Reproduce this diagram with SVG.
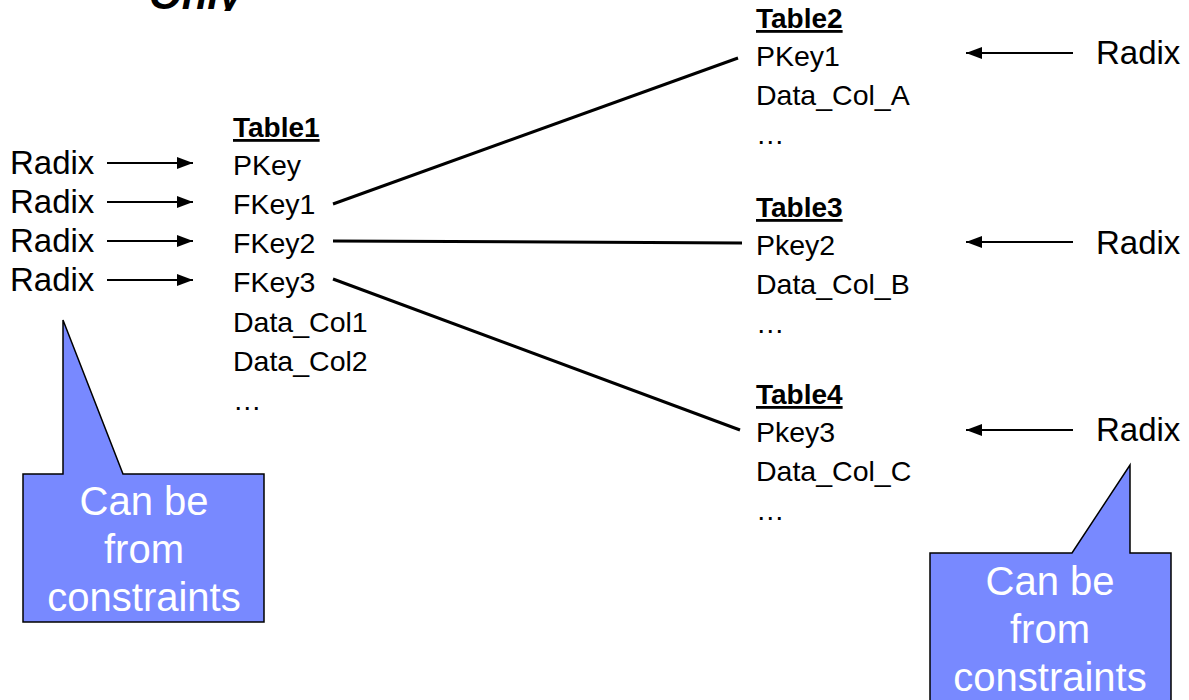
<svg xmlns="http://www.w3.org/2000/svg" width="1189" height="700" viewBox="0 0 1189 700">
  <defs>
    <marker id="arrow" viewBox="0 0 16 12" refX="16" refY="6" markerWidth="16" markerHeight="12" markerUnits="userSpaceOnUse" orient="auto">
      <path d="M0,0 L16,6 L0,12 z" fill="#000"/>
    </marker>
    <clipPath id="topClip">
      <rect x="0" y="0" width="400" height="11"/>
    </clipPath>
    <style>
      text { font-family: "Liberation Sans", Arial, sans-serif; fill: #000; }
      .col { font-size: 28.5px; }
      .title { font-size: 28px; font-weight: bold; text-decoration: underline; }
      .radix { font-size: 33px; }
      .note { font-size: 40px; fill: #fff; text-anchor: middle; }
      .link { stroke: #000; stroke-width: 3; fill: none; }
      .feed { stroke: #000; stroke-width: 2; fill: none; marker-end: url(#arrow); }
      .callout { fill: #7889ff; stroke: #000; stroke-width: 1.5; }
    </style>
  </defs>

  <rect width="1189" height="700" fill="#fff"/>

  <!-- heading, running off the top edge -->
  <text x="149" y="9" clip-path="url(#topClip)" style="font-size:42px;font-weight:900;font-style:italic">Only</text>

  <!-- Table1 -->
  <g id="table1">
    <text class="title" x="233" y="137">Table1</text>
    <text class="col" x="233" y="175">PKey</text>
    <text class="col" x="233" y="214">FKey1</text>
    <text class="col" x="233" y="253">FKey2</text>
    <text class="col" x="233" y="292">FKey3</text>
    <text class="col" x="233" y="332">Data_Col1</text>
    <text class="col" x="233" y="371">Data_Col2</text>
    <text class="col" x="233" y="410">…</text>
  </g>

  <!-- Table2 -->
  <g id="table2">
    <text class="title" x="756" y="28">Table2</text>
    <text class="col" x="756" y="66">PKey1</text>
    <text class="col" x="756" y="105">Data_Col_A</text>
    <text class="col" x="756" y="144">…</text>
  </g>

  <!-- Table3 -->
  <g id="table3">
    <text class="title" x="756" y="217">Table3</text>
    <text class="col" x="756" y="255">Pkey2</text>
    <text class="col" x="756" y="294">Data_Col_B</text>
    <text class="col" x="756" y="333">…</text>
  </g>

  <!-- Table4 -->
  <g id="table4">
    <text class="title" x="756" y="404">Table4</text>
    <text class="col" x="756" y="442">Pkey3</text>
    <text class="col" x="756" y="481">Data_Col_C</text>
    <text class="col" x="756" y="520">…</text>
  </g>

  <!-- Radix sources -->
  <g id="radix-left">
    <text class="radix" x="10" y="174">Radix</text>
    <text class="radix" x="10" y="213">Radix</text>
    <text class="radix" x="10" y="252">Radix</text>
    <text class="radix" x="10" y="291">Radix</text>
  </g>
  <g id="radix-right">
    <text class="radix" x="1096" y="64">Radix</text>
    <text class="radix" x="1096" y="254">Radix</text>
    <text class="radix" x="1096" y="441">Radix</text>
  </g>

  <!-- Callouts -->
  <g id="callout-left">
    <path class="callout" d="M23,474 L63,474 L63,320 L123,474 L264,474 L264,622 L23,622 Z"/>
    <text class="note" x="144" y="515">Can be</text>
    <text class="note" x="144" y="563">from</text>
    <text class="note" x="144" y="611">constraints</text>
  </g>
  <g id="callout-right">
    <path class="callout" d="M930,553 L1072,553 L1130,465 L1130,553 L1171,553 L1171,705 L930,705 Z"/>
    <text class="note" x="1050" y="595">Can be</text>
    <text class="note" x="1050" y="643">from</text>
    <text class="note" x="1050" y="691">constraints</text>
  </g>

  <!-- Connectors -->
  <g id="connectors">
    <line class="link" x1="333" y1="204" x2="738" y2="58"/>
    <line class="link" x1="333" y1="241" x2="742" y2="243"/>
    <line class="link" x1="333" y1="279" x2="740" y2="430"/>

    <line class="feed" x1="107" y1="163" x2="193" y2="163"/>
    <line class="feed" x1="107" y1="202" x2="193" y2="202"/>
    <line class="feed" x1="107" y1="241" x2="193" y2="241"/>
    <line class="feed" x1="107" y1="280" x2="193" y2="280"/>

    <line class="feed" x1="1073" y1="53" x2="966" y2="53"/>
    <line class="feed" x1="1073" y1="242" x2="966" y2="242"/>
    <line class="feed" x1="1073" y1="430" x2="966" y2="430"/>
  </g>
</svg>
